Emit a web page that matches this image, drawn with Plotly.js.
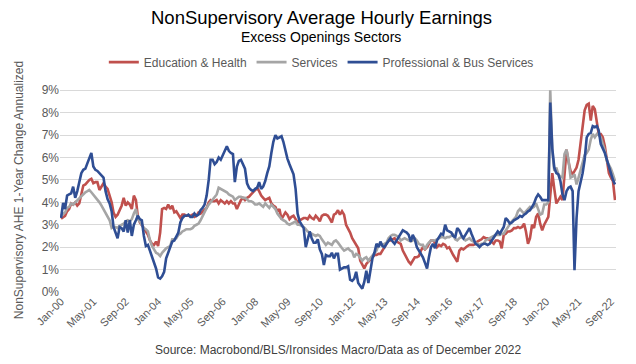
<!DOCTYPE html>
<html>
<head>
<meta charset="utf-8">
<script src="https://cdn.plot.ly/plotly-3.0.1.min.js"></script>
<style>
  html, body { margin: 0; padding: 0; background: #ffffff; }
  #chart { width: 636px; height: 364px; }
</style>
</head>
<body>
<div id="chart"></div>
<script>
// Monthly observations, Jan-2000 .. Nov-2022 (year-over-year % change)
const startMonth = '2000-01';

const eduHealth = [
  3.27, 3.35, 3.4, 3.6, 3.7, 3.95, 3.9, 4.0, 3.85, 3.95, 4.3, 4.75,   // 2000
  4.8, 4.9, 5.0, 5.05, 4.85, 4.9, 4.9, 4.55, 4.7, 4.85, 4.7, 4.6,     // 2001
  4.3, 4.0, 3.55, 3.35, 3.45, 3.7, 3.85, 4.2, 3.85, 4.0, 3.9, 3.7,    // 2002
  4.3, 4.1, 3.4, 3.1, 3.0, 2.85, 2.7, 2.55, 2.3, 2.15, 2.1, 2.25,     // 2003
  2.05, 2.65, 3.7, 3.75, 3.7, 3.9, 3.7, 3.85, 3.55, 3.6, 3.45, 3.3,   // 2004
  3.45, 3.45, 3.4, 3.4, 3.4, 3.45, 3.35, 3.4, 3.55, 3.5, 3.6, 3.65,   // 2005
  3.75, 4.0, 4.1, 4.05, 4.05, 4.1, 3.95, 4.1, 4.0, 3.95, 4.05, 3.95,  // 2006
  4.05, 3.95, 3.95, 3.7, 3.9, 4.1, 4.2, 4.1, 4.2, 4.25, 4.35, 4.45,   // 2007
  4.55, 4.65, 4.5, 4.3, 4.2, 4.1, 4.15, 4.2, 3.95, 3.85, 3.8, 3.6,    // 2008
  3.7, 3.25, 3.4, 3.55, 3.45, 3.25, 3.35, 3.4, 3.25, 3.1, 3.2, 3.25,  // 2009
  3.3, 3.3, 3.25, 3.4, 3.3, 3.25, 3.4, 3.3, 3.15, 3.4, 3.45, 3.45,    // 2010
  3.4, 3.25, 3.1, 3.45, 3.5, 3.65, 3.45, 3.6, 3.45, 3.0, 2.85, 2.65,  // 2011
  2.4, 2.25, 2.15, 1.95, 1.4, 1.2, 1.05, 1.25, 1.35, 1.45, 1.55, 1.65,// 2012
  1.65, 1.7, 1.7, 1.85, 1.95, 2.1, 2.3, 2.3, 2.35, 2.4, 2.25, 2.2,    // 2013
  2.15, 1.85, 1.7, 1.5, 1.35, 1.25, 1.4, 1.55, 1.55, 1.6, 1.85, 2.0,  // 2014
  1.9, 2.0, 2.15, 2.3, 2.3, 2.2, 2.0, 2.1, 2.05, 2.15, 2.1, 1.95,     // 2015
  2.0, 1.8, 1.65, 1.5, 1.35, 1.85, 1.95, 1.9, 2.0, 2.05, 2.1, 2.1,    // 2016
  2.1, 2.15, 2.25, 2.3, 2.35, 2.45, 2.4, 2.4, 2.3, 2.25, 2.15, 2.3,   // 2017
  2.3, 2.25, 1.95, 2.55, 2.6, 2.7, 2.7, 2.75, 2.85, 2.85, 2.9, 2.85,  // 2018
  2.9, 3.05, 2.7, 2.15, 2.4, 3.0, 2.85, 3.35, 3.5, 3.05, 2.75, 3.0,   // 2019
  3.15, 3.35, 4.3, 5.3, 4.6, 3.95, 4.1, 4.25, 4.1, 5.3, 6.35, 5.8,    // 2020
  5.4, 5.25, 5.4, 5.55, 5.9, 6.6, 7.4, 8.1, 8.35, 8.4, 7.65, 8.3,     // 2021
  8.15, 7.65, 7.05, 7.05, 6.9, 6.5, 5.8, 5.3, 5.1, 4.95, 4.1          // 2022
];

const services = [
  3.4, 3.5, 3.55, 3.75, 3.8, 3.95, 3.9, 4.0, 4.1, 4.15, 4.25, 4.35,   // 2000
  4.45, 4.5, 4.55, 4.45, 4.35, 4.25, 4.1, 4.0, 3.85, 3.7, 3.55, 3.35, // 2001
  3.2, 2.85, 2.9, 2.9, 2.85, 2.95, 3.0, 3.05, 3.15, 3.2, 3.15, 3.25,  // 2002
  3.5, 3.7, 3.25, 3.15, 3.0, 2.85, 2.8, 2.7, 2.3, 2.05, 1.9, 1.75,    // 2003
  1.7, 1.6, 1.75, 1.85, 1.95, 2.0, 2.05, 2.35, 2.35, 2.4, 2.55, 2.6,  // 2004
  2.7, 2.75, 2.8, 2.8, 2.8, 2.85, 2.95, 3.0, 3.05, 3.2, 3.4, 3.6,     // 2005
  3.75, 3.9, 4.0, 4.1, 4.25, 4.35, 4.65, 4.6, 4.55, 4.5, 4.45, 4.35,  // 2006
  4.3, 4.25, 4.1, 4.2, 4.25, 4.25, 4.2, 4.2, 4.1, 4.05, 4.05, 4.0,    // 2007
  3.9, 3.9, 3.95, 3.85, 3.8, 3.95, 3.85, 3.75, 3.9, 3.8, 3.7, 3.5,    // 2008
  3.35, 3.25, 3.2, 3.15, 3.05, 3.0, 3.05, 3.1, 3.15, 3.0, 3.0, 2.95,  // 2009
  2.9, 2.8, 2.7, 2.65, 2.6, 2.55, 2.5, 2.55, 2.5, 2.35, 2.2, 2.1,     // 2010
  2.2, 2.15, 2.1, 2.25, 2.3, 2.2, 2.05, 1.95, 1.85, 1.9, 1.95, 1.85,  // 2011
  1.8, 1.55, 1.7, 1.65, 1.55, 1.4, 1.5, 1.55, 1.4, 1.5, 1.65, 1.75,   // 2012
  1.85, 2.1, 2.1, 2.1, 2.15, 2.2, 2.4, 2.5, 2.55, 2.55, 2.5, 2.45,    // 2013
  2.3, 2.35, 2.4, 2.35, 2.3, 2.25, 2.3, 2.4, 2.3, 2.15, 2.1, 2.1,     // 2014
  1.9, 2.1, 2.2, 2.3, 2.3, 2.3, 2.35, 2.4, 2.45, 2.45, 2.4, 2.45,     // 2015
  2.45, 2.5, 2.55, 2.35, 2.3, 2.4, 2.45, 2.4, 2.3, 2.35, 2.4, 2.3,    // 2016
  2.25, 2.2, 2.15, 2.1, 2.15, 2.15, 2.3, 2.35, 2.4, 2.45, 2.5, 2.55,  // 2017
  2.55, 2.55, 2.6, 2.6, 2.75, 2.9, 3.0, 3.15, 3.25, 3.35, 3.6, 3.7,   // 2018
  3.6, 3.5, 3.6, 3.7, 3.8, 3.75, 3.8, 3.95, 3.7, 3.45, 3.5, 3.9,      // 2019
  3.9, 4.0, 9.0, 6.3, 5.4, 5.55, 5.25, 5.15, 5.1, 6.15, 6.35, 5.9,    // 2020
  5.1, 5.15, 5.25, 4.8, 5.1, 5.45, 5.8, 6.1, 6.2, 6.35, 6.8, 7.05,    // 2021
  6.9, 7.05, 7.0, 6.9, 6.6, 6.3, 5.85, 5.7, 5.5, 5.25, 4.95           // 2022
];

const profBus = [
  3.3, 3.97, 3.7, 4.3, 4.35, 4.4, 4.7, 4.2, 4.5, 4.9, 5.3, 5.45,      // 2000
  5.5, 5.75, 5.95, 6.2, 5.6, 5.45, 5.4, 5.3, 5.2, 5.1, 4.5, 4.15,     // 2001
  3.95, 3.6, 2.9, 2.6, 2.4, 2.9, 2.85, 2.7, 3.2, 2.65, 3.2, 2.5,      // 2002
  3.0, 3.2, 3.4, 3.25, 3.2, 2.5, 2.05, 2.1, 1.85, 1.6, 1.35, 1.05,    // 2003
  0.65, 0.6, 0.7, 0.9, 1.5, 1.75, 2.0, 2.25, 2.3, 2.45, 2.65, 3.1,    // 2004
  3.3, 3.4, 3.4, 3.45, 3.35, 3.35, 3.5, 3.4, 3.45, 3.65, 3.75, 3.9,   // 2005
  4.3, 5.0, 5.9, 5.9, 5.7, 5.8, 6.0, 5.9, 6.1, 6.35, 6.5, 6.3,        // 2006
  6.2, 6.15, 4.9, 5.6, 5.85, 5.9, 5.7, 5.5, 4.85, 4.65, 4.55, 4.5,    // 2007
  4.6, 4.65, 4.9, 4.6, 4.7, 4.95, 5.3, 5.6, 6.2, 6.7, 7.0, 6.85,      // 2008
  6.9, 6.95, 6.7, 6.3, 5.95, 5.7, 5.45, 5.25, 4.6, 3.5, 3.15, 3.0,    // 2009
  2.85, 2.0, 2.3, 2.7, 2.4, 2.2, 2.2, 2.35, 1.9, 1.7, 1.2, 1.65,      // 2010
  1.6, 1.6, 1.75, 1.5, 1.7, 1.7, 1.0, 1.05, 1.1, 1.1, 1.15, 0.55,     // 2011
  0.5, 0.6, 0.9, 0.4, 0.3, 0.15, 0.45, 0.95, 0.4, 1.0, 1.5, 1.75,     // 2012
  2.15, 2.0, 2.25, 2.05, 2.0, 2.15, 2.25, 2.4, 2.25, 2.15, 2.3, 2.45, // 2013
  2.65, 2.75, 2.7, 2.65, 2.55, 2.25, 2.55, 2.35, 2.0, 1.85, 1.7, 1.55,// 2014
  1.3, 1.05, 1.55, 2.0, 2.15, 1.95, 2.3, 2.45, 2.6, 2.55, 3.0, 2.75,  // 2015
  2.7, 2.65, 2.5, 2.45, 2.85, 2.75, 2.55, 2.4, 2.55, 2.7, 2.85, 2.6,  // 2016
  2.35, 2.15, 2.1, 2.0, 2.1, 2.15, 2.15, 2.1, 2.15, 2.3, 2.45, 2.55,  // 2017
  2.7, 2.6, 2.75, 2.9, 3.3, 3.2, 3.05, 3.1, 3.2, 3.25, 3.3, 3.4,      // 2018
  3.35, 3.45, 3.5, 3.6, 3.65, 3.8, 3.95, 4.2, 4.35, 4.25, 4.1, 4.1,   // 2019
  4.1, 4.1, 8.45, 6.4, 5.55, 5.3, 5.25, 4.95, 4.35, 4.1, 4.5, 4.65,   // 2020
  4.7, 4.5, 0.97, 3.3, 4.5, 4.85, 5.3, 5.9, 6.9, 7.05, 7.1, 7.4,      // 2021
  7.35, 7.4, 7.2, 6.6, 6.4, 6.2, 5.9, 5.6, 5.2, 5.0, 4.8              // 2022
];

const seriesNames = ['Education & Health', 'Services', 'Professional & Bus Services'];
const seriesColors = ['#C0504D', '#A5A5A5', '#2F4E94'];
const titleText = 'NonSupervisory Average Hourly Earnings';
const subtitleText = 'Excess Openings Sectors';
const yTitleText = 'NonSupervisory AHE 1-Year Change Annualized';
const sourceText = 'Source: Macrobond/BLS/Ironsides Macro/Data as of December 2022';

// month dates for the x axis
function monthDates(start, n) {
  const [y0, m0] = start.split('-').map(Number);
  const out = [];
  for (let i = 0; i < n; i++) {
    const t = (m0 - 1) + i;
    const y = y0 + Math.floor(t / 12);
    const m = (t % 12) + 1;
    out.push(y + '-' + String(m).padStart(2, '0') + '-01');
  }
  return out;
}
const dates = monthDates(startMonth, eduHealth.length);

const FONT = 'Liberation Sans, Arial, sans-serif';

const traces = [eduHealth, services, profBus].map((vals, i) => ({
  type: 'scatter',
  mode: 'lines',
  x: dates,
  y: vals,
  name: seriesNames[i],
  line: { color: seriesColors[i], width: 2.6 },
  hoverinfo: 'skip'
}));

const layout = {
  width: 636,
  height: 364,
  paper_bgcolor: '#ffffff',
  plot_bgcolor: '#ffffff',
  margin: { l: 60, r: 20, t: 88, b: 72 },
  font: { family: FONT, color: '#595959' },
  showlegend: true,
  legend: {
    orientation: 'h',
    x: 0.47, xanchor: 'center',
    y: 1.127, yanchor: 'middle',
    font: { family: FONT, size: 12, color: '#595959' },
    itemwidth: 30,
    bgcolor: 'rgba(0,0,0,0)'
  },
  xaxis: {
    type: 'date',
    range: ['1999-12-16', '2022-11-16'],
    tick0: '2000-01-01',
    dtick: 'M16',
    tickformat: '%b-%y',
    tickangle: -45,
    tickfont: { family: FONT, size: 11, color: '#595959' },
    showgrid: false,
    showline: false,
    zeroline: false,
    ticks: ''
  },
  yaxis: {
    range: [0, 9.1],
    dtick: 1,
    tick0: 0,
    ticksuffix: '%',
    tickfont: { family: FONT, size: 12, color: '#595959' },
    gridcolor: '#D9D9D9',
    gridwidth: 1,
    zeroline: false,
    showline: false,
    ticks: '',
    title: {
      text: yTitleText,
      font: { family: FONT, size: 12, color: '#595959' },
      standoff: 15
    }
  },
  annotations: [
    {
      text: titleText,
      xref: 'paper', yref: 'paper',
      x: 0.47, y: 1.345,
      xanchor: 'center', yanchor: 'middle',
      showarrow: false,
      font: { family: FONT, size: 18.5, color: '#000000' }
    },
    {
      text: subtitleText,
      xref: 'paper', yref: 'paper',
      x: 0.47, y: 1.25,
      xanchor: 'center', yanchor: 'middle',
      showarrow: false,
      font: { family: FONT, size: 14, color: '#000000' }
    },
    {
      text: sourceText,
      xref: 'paper', yref: 'paper',
      x: 0.5, y: -0.285,
      xanchor: 'center', yanchor: 'middle',
      showarrow: false,
      font: { family: FONT, size: 12, color: '#404040' }
    }
  ]
};

Plotly.newPlot('chart', traces, layout, { staticPlot: true, displayModeBar: false });
</script>
</body>
</html>
